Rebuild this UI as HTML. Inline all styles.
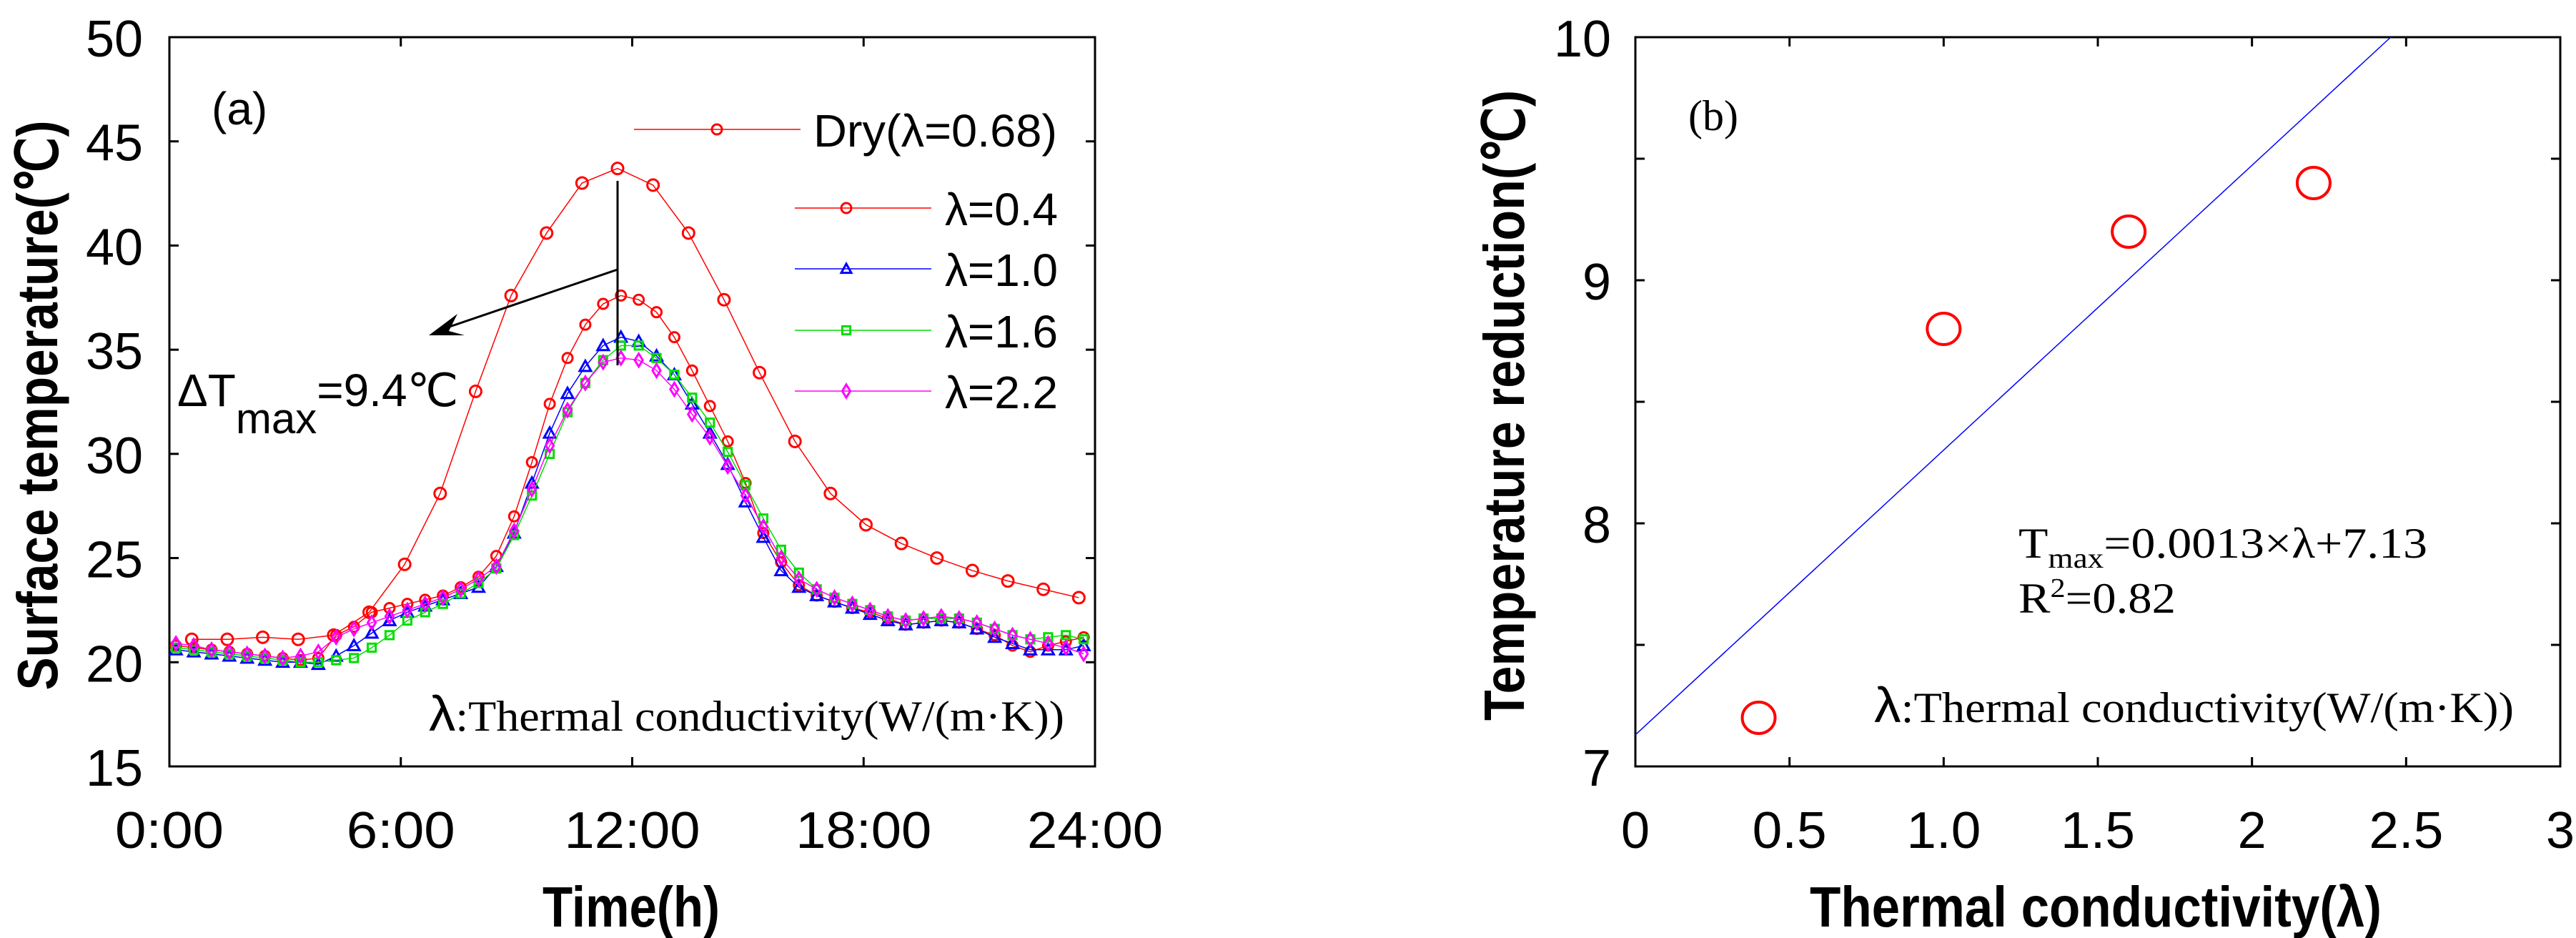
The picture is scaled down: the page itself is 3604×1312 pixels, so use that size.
<!DOCTYPE html>
<html><head><meta charset="utf-8">
<style>
html,body{margin:0;padding:0;background:#fff;}
svg{display:block;}
.tk{font-family:"Liberation Sans Narrow","Liberation Sans",sans-serif;font-size:72px;fill:#000;}
.tt{font-family:"Liberation Sans",sans-serif;font-weight:bold;font-size:80px;fill:#000;}
.sf{font-family:"Liberation Serif",serif;fill:#000;}
.lg{font-family:"Liberation Sans Narrow","Liberation Sans",sans-serif;font-size:64px;fill:#000;}
</style></head>
<body>
<svg id="chart" width="3604" height="1312" viewBox="0 0 3604 1312" xmlns="http://www.w3.org/2000/svg">
<g id="pa"></g>
<g id="pb"></g>
</svg>
<script>
// Panel (a) data
const xTicksA = [0, 6, 12, 18, 24];
const xTickLabelsA = ["0:00", "6:00", "12:00", "18:00", "24:00"];
const yTicksA = [15, 20, 25, 30, 35, 40, 45, 50];
const dryTimes = [0.58,1.5,2.42,3.34,4.26,5.18,6.1,7.02,7.94,8.86,9.78,10.7,11.62,12.54,13.46,14.38,15.3,16.22,17.14,18.06,18.98,19.9,20.82,21.74,22.66,23.58];
const dryVals = [21.1,21.1,21.2,21.1,21.3,22.4,24.7,28.1,33.0,37.6,40.6,43.0,43.7,42.9,40.6,37.4,33.9,30.6,28.1,26.6,25.7,25.0,24.4,23.9,23.5,23.1];
const seriesStart = 0.17;
const seriesStep = 0.4615;
const lam04 = [20.8,20.7,20.6,20.5,20.4,20.3,20.2,20.1,20.2,21.3,21.7,22.4,22.6,22.8,23.0,23.2,23.6,24.1,25.1,27.0,29.6,32.4,34.6,36.2,37.2,37.6,37.4,36.8,35.6,34.0,32.3,30.6,28.6,26.2,24.8,23.7,23.2,22.9,22.6,22.4,22.1,21.8,21.9,22.0,21.9,21.6,21.3,20.8,20.5,20.8,21.0,21.2];
const lam10 = [20.6,20.5,20.4,20.3,20.2,20.1,20.0,20.0,19.9,20.3,20.8,21.4,22.0,22.4,22.7,23.0,23.3,23.6,24.6,26.2,28.6,31.0,32.9,34.2,35.2,35.6,35.4,34.7,33.8,32.4,31.0,29.5,27.7,26.0,24.4,23.6,23.2,22.9,22.6,22.3,22.0,21.8,21.9,22.0,21.9,21.6,21.2,20.9,20.6,20.6,20.6,20.8];
const lam16 = [20.7,20.6,20.5,20.4,20.3,20.2,20.1,20.0,20.0,20.1,20.2,20.7,21.3,22.0,22.4,22.8,23.3,23.8,24.5,26.1,28.0,30.0,32.0,33.4,34.5,35.2,35.2,34.6,33.8,32.7,31.5,30.1,28.5,26.9,25.4,24.3,23.5,23.1,22.8,22.5,22.2,22.0,22.1,22.1,22.1,21.9,21.6,21.3,21.1,21.2,21.3,21.1];
const lam22 = [20.9,20.8,20.6,20.5,20.4,20.3,20.2,20.3,20.5,21.2,21.6,21.9,22.2,22.5,22.8,23.1,23.5,24.0,24.6,26.3,28.3,30.4,32.1,33.4,34.4,34.6,34.5,34.0,33.1,31.9,30.8,29.4,28.0,26.5,25.0,24.0,23.5,23.1,22.8,22.5,22.2,22.0,22.1,22.2,22.1,21.9,21.6,21.3,21.1,20.9,20.7,20.4];
// Panel (b) data
const xTicksB = [0, 0.5, 1.0, 1.5, 2, 2.5, 3];
const xTickLabelsB = ["0", "0.5", "1.0", "1.5", "2", "2.5", "3"];
const yTicksB = [7, 7.5, 8, 8.5, 9, 9.5, 10];
const yTickLabelsB = ["7", "", "8", "", "9", "", "10"];
const lambdaB = [0.4, 1.0, 1.6, 2.2];
const reductionB = [7.2, 8.8, 9.2, 9.4];
const fitX = [0, 2.45];
const fitY = [7.13, 10.0];

const NS = "http://www.w3.org/2000/svg";
function mk(parent, tag, attrs, text) {
  const e = document.createElementNS(NS, tag);
  for (const k in attrs) e.setAttribute(k, attrs[k]);
  if (text !== undefined) e.textContent = text;
  parent.appendChild(e);
  return e;
}
function fitW(e, w) {
  e.setAttribute('textLength', w);
  e.setAttribute('lengthAdjust', 'spacingAndGlyphs');
}
const charW = 38;

// ---------- Panel A ----------
const pa = document.getElementById('pa');
const A = {l:237, r:1532, t:52, b:1072, x0:0, x1:24, y0:15, y1:50};
const ax = v => A.l + (v - A.x0) / (A.x1 - A.x0) * (A.r - A.l);
const ay = v => A.b - (v - A.y0) / (A.y1 - A.y0) * (A.b - A.t);

let frameA = mk(pa, 'rect', {x:A.l, y:A.t, width:A.r-A.l, height:A.b-A.t, fill:'none', stroke:'#000', 'stroke-width':3});


xTicksA.forEach((v, i) => {
  const x = ax(v);
  let t1 = mk(pa, 'line', {x1:x, x2:x, y1:A.b, y2:A.b-13, stroke:'#000', 'stroke-width':3});
  
  
  let t2 = mk(pa, 'line', {x1:x, x2:x, y1:A.t, y2:A.t+13, stroke:'#000', 'stroke-width':3});
  
  
  let lb = mk(pa, 'text', {x:x, y:1186, 'text-anchor':'middle', class:'tk'}, xTickLabelsA[i]);
  fitW(lb, xTickLabelsA[i].length * charW);
  
  
});
yTicksA.forEach(v => {
  const y = ay(v);
  let t1 = mk(pa, 'line', {x1:A.l, x2:A.l+13, y1:y, y2:y, stroke:'#000', 'stroke-width':3});
  
  
  let t2 = mk(pa, 'line', {x1:A.r, x2:A.r-13, y1:y, y2:y, stroke:'#000', 'stroke-width':3});
  
  
  let lb = mk(pa, 'text', {x:200, y:y+27, 'text-anchor':'end', class:'tk'}, String(v));
  fitW(lb, 80);
  
  
});
let xtA = mk(pa, 'text', {x:883, y:1296, 'text-anchor':'middle', class:'tt'}, 'Time(h)');
fitW(xtA, 248);


let ytA = mk(pa, 'text', {x:0, y:0, 'text-anchor':'middle', class:'tt', transform:'translate(80,567) rotate(-90)'}, 'Surface temperature(℃)');
fitW(ytA, 797);



function marker(g, kind, x, y, color, r) {
  let m;
  if (kind === 'circle') m = mk(g, 'circle', {cx:x, cy:y, r:r, fill:'none', stroke:color, 'stroke-width':3});
  else if (kind === 'tri') m = mk(g, 'polygon', {points:`${x},${y-r} ${x-r},${y+r*0.8} ${x+r},${y+r*0.8}`, fill:'none', stroke:color, 'stroke-width':3});
  else if (kind === 'sq') m = mk(g, 'rect', {x:x-r*0.8, y:y-r*0.8, width:r*1.6, height:r*1.6, fill:'none', stroke:color, 'stroke-width':3});
  else m = mk(g, 'polygon', {points:`${x},${y-r*1.3} ${x-r*0.8},${y} ${x},${y+r*1.3} ${x+r*0.8},${y}`, fill:'none', stroke:color, 'stroke-width':3});
  return m;
}
function drawSeries(name, times, vals, color, kind, r) {
  const g = mk(pa, 'g', {});
  
  
  const pts = vals.map((v, i) => [ax(times[i]), ay(v)]);
  const ln = mk(g, 'polyline', {points:pts.map(p => p.join(',')).join(' '), fill:'none', stroke:color, 'stroke-width':1.5});
  
  
  pts.forEach(p => {
    const m = marker(g, kind, p[0], p[1], color, r);
    
    
  });
}
const idxTimes = lam04.map((_, i) => seriesStart + seriesStep * i);
drawSeries('series-dry', dryTimes, dryVals, '#ff0000', 'circle', 8);
drawSeries('series-lambda-0-4', idxTimes, lam04, '#ff0000', 'circle', 7);
drawSeries('series-lambda-1-0', idxTimes, lam10, '#0000ff', 'tri', 8);
drawSeries('series-lambda-1-6', idxTimes, lam16, '#00dd00', 'sq', 7);
drawSeries('series-lambda-2-2', idxTimes, lam22, '#ff00ff', 'dia', 7);

// annotations
let vl = mk(pa, 'line', {x1:864, x2:864, y1:253, y2:511, stroke:'#000', 'stroke-width':3});


let arr = mk(pa, 'line', {x1:864, y1:377, x2:620, y2:460, stroke:'#000', 'stroke-width':3});


let ah = mk(pa, 'polygon', {points:'600,469 640,439 628,463 650,469', fill:'#000'});


let dt = mk(pa, 'text', {x:248, y:568, class:'lg', 'font-size':'68'});


dt.innerHTML = 'ΔT<tspan font-size="60" dy="38">max</tspan><tspan dy="-38">=9.4℃</tspan>';
let la = mk(pa, 'text', {x:296, y:174, class:'lg', 'font-size':'60'}, '(a)');



// legend
const lgItems = [
  {label:'Dry(λ=0.68)', color:'#ff0000', kind:'circle', y:181, x1:887, x2:1120, mx:1003, tx:1138, w:341},
  {label:'λ=0.4', color:'#ff0000', kind:'circle', y:291, x1:1112, x2:1303, mx:1184, tx:1322, w:158},
  {label:'λ=1.0', color:'#0000ff', kind:'tri', y:376, x1:1112, x2:1303, mx:1184, tx:1322, w:158},
  {label:'λ=1.6', color:'#00dd00', kind:'sq', y:462, x1:1112, x2:1303, mx:1184, tx:1322, w:158},
  {label:'λ=2.2', color:'#ff00ff', kind:'dia', y:547, x1:1112, x2:1303, mx:1184, tx:1322, w:158}
];
lgItems.forEach(it => {
  const g = mk(pa, 'g', {});
  
  
  mk(g, 'line', {x1:it.x1, x2:it.x2, y1:it.y, y2:it.y, stroke:it.color, 'stroke-width':1.5});
  marker(g, it.kind, it.mx, it.y, it.color, 7);
  const t = mk(g, 'text', {x:it.tx, y:it.y+24, class:'lg'}, it.label);
  fitW(t, it.w);
});
let noteA = mk(pa, 'text', {x:600, y:1022, class:'sf', 'font-size':'60'});


noteA.innerHTML = '<tspan font-family="Liberation Sans" font-size="70">λ</tspan>:Thermal conductivity(W/(m·K))';
fitW(noteA, 889);

// ---------- Panel B ----------
const pb = document.getElementById('pb');
const B = {l:2288, r:3582, t:52, b:1072, x0:0, x1:3, y0:7, y1:10};
const bx = v => B.l + (v - B.x0) / (B.x1 - B.x0) * (B.r - B.l);
const by = v => B.b - (v - B.y0) / (B.y1 - B.y0) * (B.b - B.t);
let frameB = mk(pb, 'rect', {x:B.l, y:B.t, width:B.r-B.l, height:B.b-B.t, fill:'none', stroke:'#000', 'stroke-width':3});


xTicksB.forEach((v, i) => {
  const x = bx(v);
  let t1 = mk(pb, 'line', {x1:x, x2:x, y1:B.b, y2:B.b-13, stroke:'#000', 'stroke-width':3});
  
  
  let t2 = mk(pb, 'line', {x1:x, x2:x, y1:B.t, y2:B.t+13, stroke:'#000', 'stroke-width':3});
  
  
  let lb = mk(pb, 'text', {x:x, y:1186, 'text-anchor':'middle', class:'tk'}, xTickLabelsB[i]);
  fitW(lb, xTickLabelsB[i].length === 1 ? 40 : 104);
  
  
});
yTicksB.forEach((v, i) => {
  const y = by(v);
  let t1 = mk(pb, 'line', {x1:B.l, x2:B.l+13, y1:y, y2:y, stroke:'#000', 'stroke-width':3});
  
  
  let t2 = mk(pb, 'line', {x1:B.r, x2:B.r-13, y1:y, y2:y, stroke:'#000', 'stroke-width':3});
  
  
  if (yTickLabelsB[i]) {
    let lb = mk(pb, 'text', {x:2254, y:y+27, 'text-anchor':'end', class:'tk'}, yTickLabelsB[i]);
    fitW(lb, yTickLabelsB[i].length * 40);
    
    
  }
});
let xtB = mk(pb, 'text', {x:2932, y:1296, 'text-anchor':'middle', class:'tt'}, 'Thermal conductivity(λ)');
fitW(xtB, 800);


let ytB = mk(pb, 'text', {x:0, y:0, 'text-anchor':'middle', class:'tt', transform:'translate(2132,567) rotate(-90)'}, 'Temperature reduction(℃)');
fitW(ytB, 882);


let fit = mk(pb, 'line', {x1:bx(fitX[0]), y1:by(fitY[0]), x2:bx(fitX[1]), y2:by(fitY[1]), stroke:'#0000ff', 'stroke-width':1.5});


lambdaB.forEach((v, i) => {
  let c = mk(pb, 'ellipse', {cx:bx(v), cy:by(reductionB[i]), rx:23, ry:22, fill:'none', stroke:'#ff0000', 'stroke-width':4});
  
  
});
let lbB = mk(pb, 'text', {x:2362, y:182, class:'sf', 'font-size':'60'}, '(b)');


let eq = mk(pb, 'text', {x:2824, y:780, class:'sf', 'font-size':'60'});


eq.innerHTML = 'T<tspan font-size="40" dy="14">max</tspan><tspan dy="-14">=0.0013×λ+7.13</tspan>';
fitW(eq, 572);
let r2 = mk(pb, 'text', {x:2824, y:857, class:'sf', 'font-size':'60'});


r2.innerHTML = 'R<tspan font-size="38" dy="-22">2</tspan><tspan dy="22">=0.82</tspan>';
fitW(r2, 220);
let noteB = mk(pb, 'text', {x:2622, y:1010, class:'sf', 'font-size':'60'});


noteB.innerHTML = '<tspan font-family="Liberation Sans" font-size="70">λ</tspan>:Thermal conductivity(W/(m·K))';
fitW(noteB, 895);
</script>
</body></html>
